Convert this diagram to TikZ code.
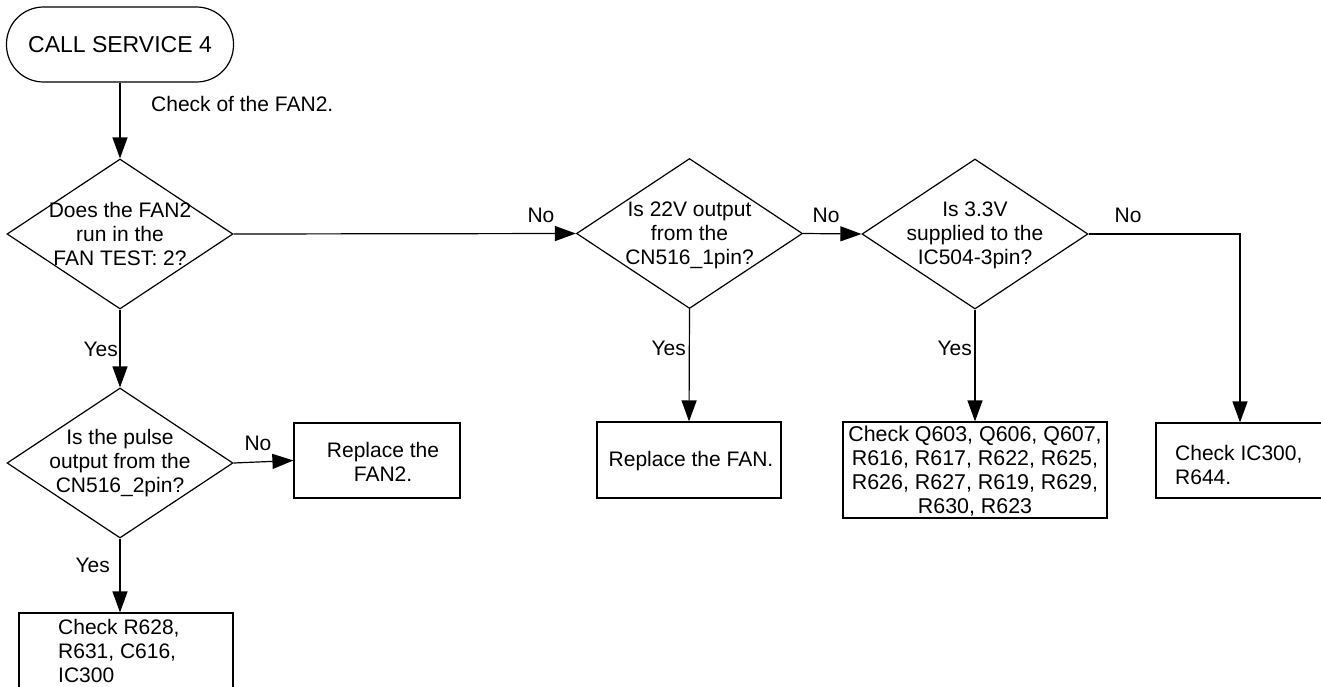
\documentclass[tikz,border=0pt]{standalone}
\usepackage{fontspec}
\setmainfont{Liberation Sans}
\usetikzlibrary{shapes.geometric,arrows.meta}
\begin{document}
\begin{tikzpicture}[x=1pt,y=-1pt,
  every node/.style={font=\fontsize{21}{24}\selectfont},
  line/.style={line width=1.2pt},
  arr/.style={line width=1.2pt,-{Triangle[length=21pt,width=15pt]}},
  term/.style={draw,line width=1.2pt,rounded corners=37pt,minimum width=227pt,minimum height=75pt,inner sep=0pt,font=\fontsize{23}{27}\selectfont},
  dia/.style={draw,line width=1.2pt,diamond,minimum width=226pt,minimum height=150pt,inner sep=0pt},
  dtext/.style={align=center,inner sep=0pt},
  procbox/.style={draw,line width=1.2pt,inner sep=0pt},
  lbl/.style={inner sep=1pt}
]
\clip (0,0) rectangle (1321,686);
\fill[white] (0,0) rectangle (1321,686);

% start
\node[term] (start) at (120,44.5) {CALL SERVICE 4};
\node[anchor=west,inner sep=0pt] (chk) at (151,104) {Check of the FAN2.};

% diamonds
\node[dia] (d1) at (120,234) {};
\node[dtext] (d1t) at (120,234) {Does the FAN2\\run in the\\FAN TEST: 2?};
\node[dia] (d2) at (120,463) {};
\node[dtext] (d2t) at (120,463) {Is the pulse\\output from the\\CN516\_2pin?};
\node[dia] (d3) at (689.5,233.5) {};
\node[dtext] (d3t) at (689.5,235) {Is 22V output\\from the\\CN516\_1pin?};
\node[dia] (d4) at (975,234) {};
\node[dtext] (d4t) at (975,235) {Is 3.3V\\supplied to the\\IC504-3pin?};

% boxes
\node[procbox,minimum width=166pt,minimum height=75pt] (bfan2) at (377,460.5) {};
\node[dtext] (bfan2t) at (383,462) {Replace the\\FAN2.};
\node[procbox,minimum width=214pt,minimum height=100pt] (br628) at (126,663) {};
\node[align=left,inner sep=0pt,anchor=north west] (br628t) at (58,619) {Check R628,\\R631, C616,\\IC300};
\node[procbox,minimum width=184pt,minimum height=76pt] (bfan) at (689,460) {};
\node[dtext] (bfant) at (691,461) {Replace the FAN.};
\node[procbox,minimum width=264pt,minimum height=96pt] (bq) at (975,470) {};
\node[dtext,font=\fontsize{21.4}{24}\selectfont] (bqt) at (975,471) {Check Q603, Q606, Q607,\\R616, R617, R622, R625,\\R626, R627, R619, R629,\\R630, R623};
\node[procbox,minimum width=180pt,minimum height=75pt] (bic) at (1246,460.5) {};
\node[align=left,inner sep=0pt,anchor=west] (bict) at (1175,465) {Check IC300,\\R644.};

% connectors
\draw[arr] (start.south) -- (d1.north);
\draw[arr] (d1.south) -- (d2.north);
\node[lbl,anchor=east] (y1) at (119,349) {Yes};
\draw[arr] (d2.east) -- (bfan2.west);
\node[lbl] (n2) at (258,443) {No};
\draw[arr] (d2.south) -- (d2.south |- br628.north);
\node[lbl,anchor=east] (y2) at (111,565) {Yes};
\draw[arr] (d1.east) -- (d3.west);
\node[lbl] (n1) at (541,215) {No};
\draw[arr] (d3.east) -- (d4.west);
\node[lbl] (n3) at (826,215) {No};
\draw[arr] (d3.south) -- (bfan.north);
\node[lbl,anchor=east] (y3) at (687,348) {Yes};
\draw[arr] (d4.south) -- (bq.north);
\node[lbl,anchor=east] (y4) at (973,348) {Yes};
\coordinate (c4) at (1240,234);
\draw[arr] (d4.east) -- (c4) -- (c4 |- bic.north);
\node[lbl] (n4) at (1128,215) {No};
\end{tikzpicture}
\end{document}
